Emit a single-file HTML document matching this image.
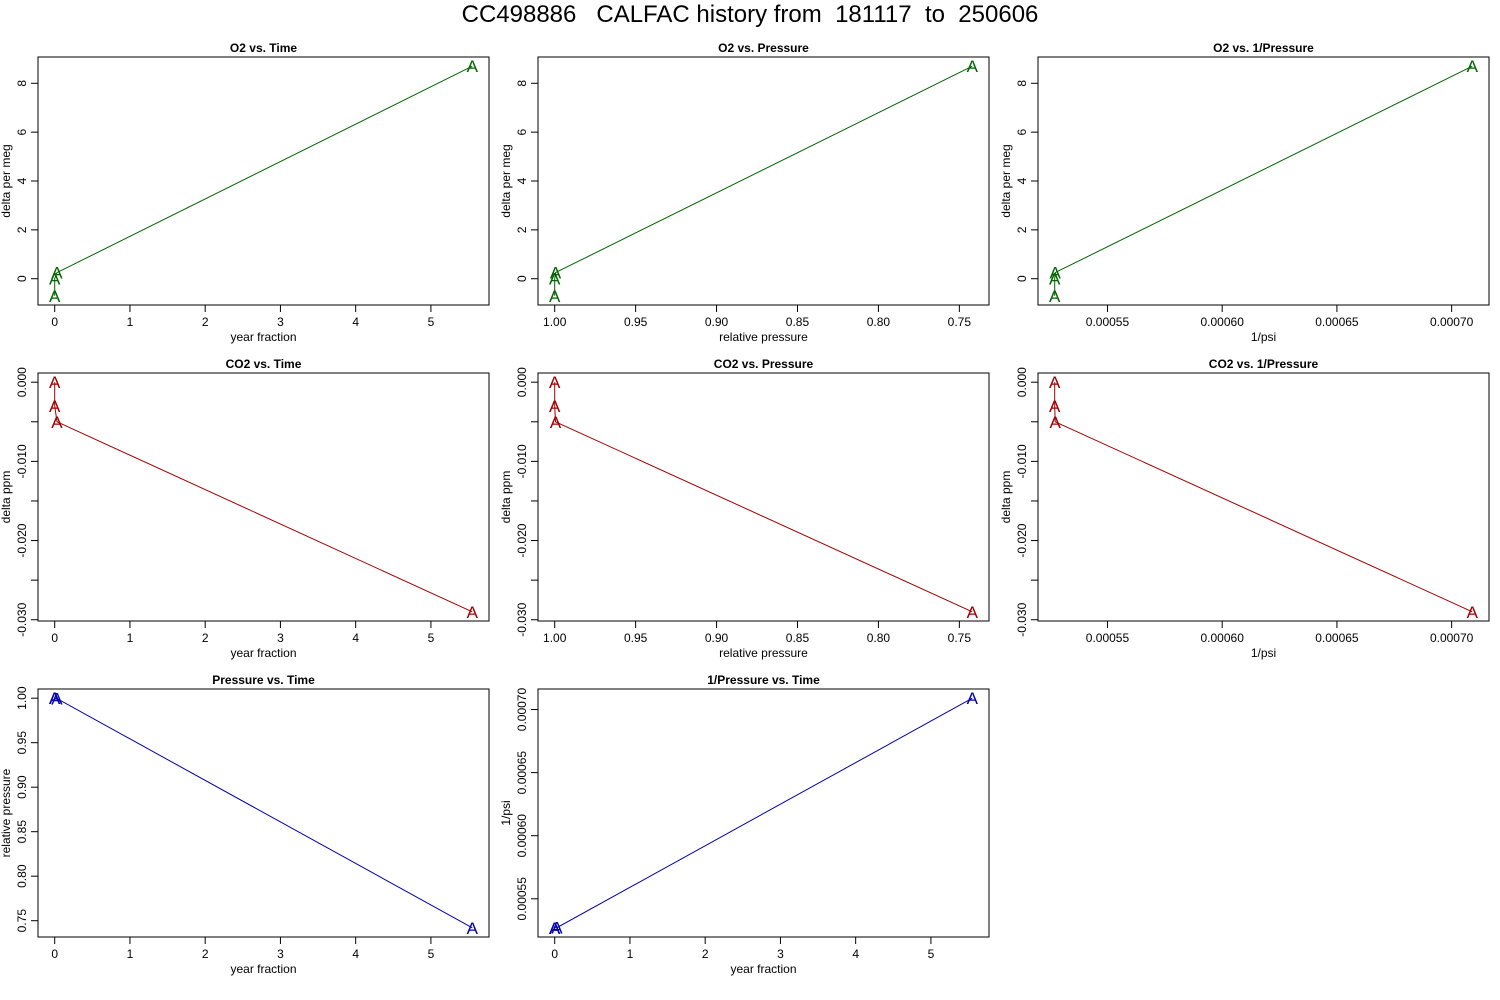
<!DOCTYPE html>
<html><head><meta charset="utf-8"><style>
body{margin:0;background:#fff;}
svg{display:block;font-family:"Liberation Sans",sans-serif;}
svg text{white-space:pre;}
</style></head><body>
<svg id="c" width="1500" height="1000" viewBox="0 0 1500 1000">
<text x="750" y="22" text-anchor="middle" font-size="24" xml:space="preserve">CC498886   CALFAC history from  181117  to  250606</text>
</svg>
<script>
const yearFrac = [0, 0, 0.03, 5.55];
const o2Delta = [-0.7, 0, 0.25, 8.7];
const co2Delta = [0.0, -0.003, -0.005, -0.029];
const relPressure = [1.0, 1.0, 0.9995, 0.742];
const invPsi = [0.000527, 0.000527, 0.0005272, 0.000709];
const ticksYear = [0, 1, 2, 3, 4, 5];
const ticksO2 = [0, 2, 4, 6, 8];
const ticksCO2 = [0, -0.005, -0.01, -0.015, -0.02, -0.025, -0.03];
const labelsCO2 = ["0.000", "", "-0.010", "", "-0.020", "", "-0.030"];
const ticksPress = [1.0, 0.95, 0.9, 0.85, 0.8, 0.75];
const labelsPress = ["1.00", "0.95", "0.90", "0.85", "0.80", "0.75"];
const ticksInv = [0.00055, 0.0006, 0.00065, 0.0007];
const labelsInv = ["0.00055", "0.00060", "0.00065", "0.00070"];

const svg = document.getElementById('c');
const NS = 'http://www.w3.org/2000/svg';
function mk(tag, attrs, parent) {
  const e = document.createElementNS(NS, tag);
  for (const k in attrs) e.setAttribute(k, attrs[k]);
  (parent || svg).appendChild(e);
  return e;
}
function lim(v, rev) {
  const mn = Math.min(...v), mx = Math.max(...v), d = (mx - mn) * 0.04;
  return rev ? [mx + d, mn - d] : [mn - d, mx + d];
}
const colX = [38, 538, 1038], rowY = [57, 373, 689], W = 451, H = 248;

function panel(name, col, row, title, xs, ys, xt, xl, yt, yl, xlab, ylab, color, xrev) {
  const g = mk('g', {});
  
  
  const L = colX[col], T = rowY[row];
  const xr = lim(xs, xrev), yr = lim(ys, false);
  const sx = v => L + (v - xr[0]) / (xr[1] - xr[0]) * W;
  const sy = v => T + H - (v - yr[0]) / (yr[1] - yr[0]) * H;
  const t = mk('text', {x: L + W / 2, y: T - 5, 'text-anchor': 'middle', 'font-size': 12, 'font-weight': 'bold'}, g);
  t.textContent = title;
  
  
  const box = mk('rect', {x: L, y: T, width: W, height: H, fill: 'none', stroke: '#000', 'stroke-width': 1}, g);
  
  
  const xa = mk('g', {}, g);
  
  
  xt.forEach((v, i) => {
    const x = sx(v);
    mk('line', {x1: x, x2: x, y1: T + H, y2: T + H + 7, stroke: '#000'}, xa);
    const tl = mk('text', {x: x, y: T + H + 21, 'text-anchor': 'middle', 'font-size': 12}, xa);
    tl.textContent = xl[i];
    
    
  });
  const xtl = mk('text', {x: L + W / 2, y: T + H + 36, 'text-anchor': 'middle', 'font-size': 12}, g);
  xtl.textContent = xlab;
  
  
  const ya = mk('g', {}, g);
  
  
  yt.forEach((v, i) => {
    const y = sy(v);
    mk('line', {x1: L - 7, x2: L, y1: y, y2: y, stroke: '#000'}, ya);
    if (yl[i] !== '') {
      const tl = mk('text', {x: 0, y: 0, 'text-anchor': 'middle', 'font-size': 12, transform: `translate(${L - 12},${y}) rotate(-90)`}, ya);
      tl.textContent = yl[i];
      
      
    }
  });
  const ytl = mk('text', {x: 0, y: 0, 'text-anchor': 'middle', 'font-size': 12, transform: `translate(${L - 28},${T + H / 2}) rotate(-90)`}, g);
  ytl.textContent = ylab;
  
  
  const pts = xs.map((v, i) => sx(v).toFixed(1) + ',' + sy(ys[i]).toFixed(1)).join(' ');
  const pl = mk('polyline', {points: pts, fill: 'none', stroke: color, 'stroke-width': 1}, g);
  
  
  xs.forEach((v, i) => {
    const a = mk('text', {x: sx(v), y: sy(ys[i]) + 6, 'text-anchor': 'middle', 'font-size': 17, fill: color}, g);
    a.textContent = 'A';
    
    
  });
}
const sYear = ticksYear.map(String), sO2 = ticksO2.map(String);
const G = '#006400', R = '#a00000', B = '#0000a8';
panel('o2-vs-time', 0, 0, 'O2 vs. Time', yearFrac, o2Delta, ticksYear, sYear, ticksO2, sO2, 'year fraction', 'delta per meg', G, false);
panel('o2-vs-pressure', 1, 0, 'O2 vs. Pressure', relPressure, o2Delta, ticksPress, labelsPress, ticksO2, sO2, 'relative pressure', 'delta per meg', G, true);
panel('o2-vs-inv-pressure', 2, 0, 'O2 vs. 1/Pressure', invPsi, o2Delta, ticksInv, labelsInv, ticksO2, sO2, '1/psi', 'delta per meg', G, false);
panel('co2-vs-time', 0, 1, 'CO2 vs. Time', yearFrac, co2Delta, ticksYear, sYear, ticksCO2, labelsCO2, 'year fraction', 'delta ppm', R, false);
panel('co2-vs-pressure', 1, 1, 'CO2 vs. Pressure', relPressure, co2Delta, ticksPress, labelsPress, ticksCO2, labelsCO2, 'relative pressure', 'delta ppm', R, true);
panel('co2-vs-inv-pressure', 2, 1, 'CO2 vs. 1/Pressure', invPsi, co2Delta, ticksInv, labelsInv, ticksCO2, labelsCO2, '1/psi', 'delta ppm', R, false);
panel('pressure-vs-time', 0, 2, 'Pressure vs. Time', yearFrac, relPressure, ticksYear, sYear, ticksPress, labelsPress, 'year fraction', 'relative pressure', B, false);
panel('inv-pressure-vs-time', 1, 2, '1/Pressure vs. Time', yearFrac, invPsi, ticksYear, sYear, ticksInv, labelsInv, 'year fraction', '1/psi', B, false);
</script>
</body></html>
